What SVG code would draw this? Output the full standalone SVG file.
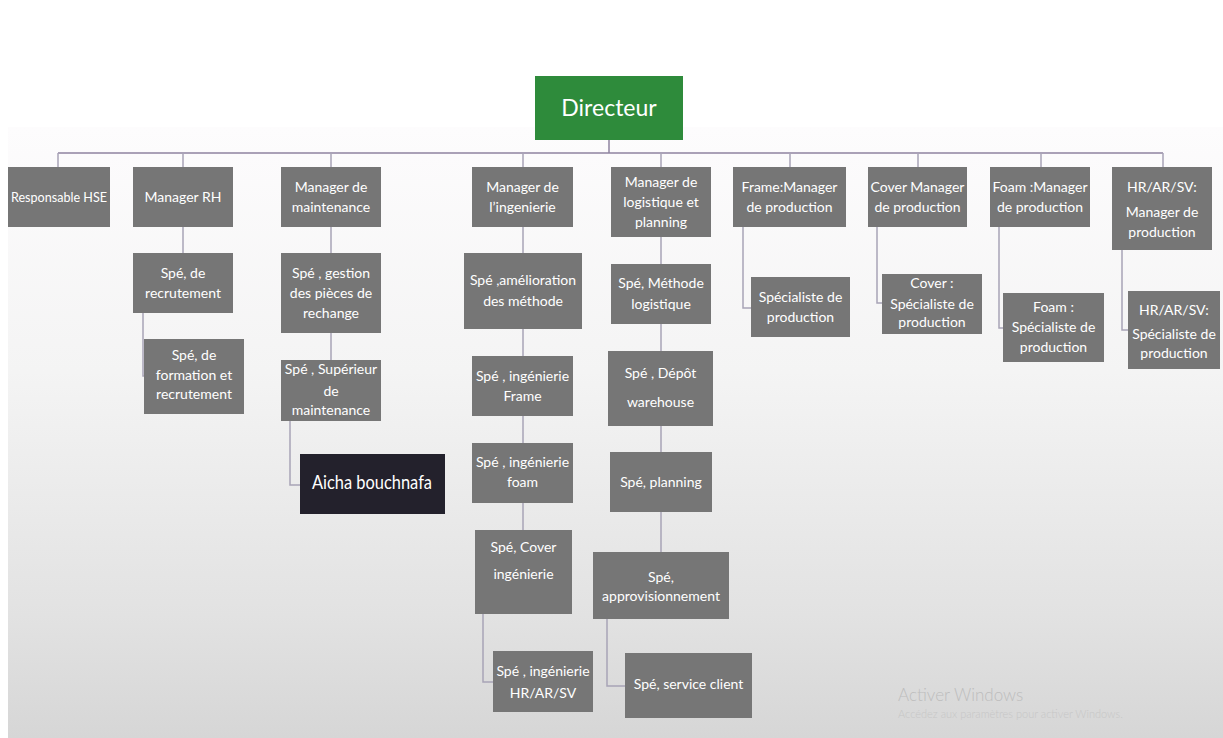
<svg xmlns="http://www.w3.org/2000/svg" width="1223" height="738" viewBox="0 0 1223 738">
<defs>
<linearGradient id="bg" x1="0" y1="0" x2="0" y2="1">
<stop offset="0" stop-color="#fdfcfd"/>
<stop offset="0.4" stop-color="#f4f4f4"/>
<stop offset="0.8" stop-color="#e2e2e2"/>
<stop offset="1" stop-color="#d6d6d6"/>
</linearGradient>
<style>
.box{fill:#767676}
.t{fill:#ffffff;font-family:Lato,"Liberation Sans",Arial,sans-serif;font-size:14px;text-anchor:middle}
.c{fill:none;stroke:#a8a4b6;stroke-width:1.5}
.bus{fill:none;stroke:#8f84a0;stroke-width:1.5}
</style>
</defs>
<rect x="0" y="0" width="1223" height="738" fill="#ffffff"/>
<rect x="8" y="127" width="1215" height="611" fill="url(#bg)"/>

<g id="connectors">
<path class="bus" d="M609,140 V153 M58,153 H1163"/>
<path class="c" d="M58,153 V167 M183,153 V167 M331,153 V167 M523,153 V167 M661,153 V167 M790,153 V167 M918,153 V167 M1041,153 V167 M1163,153 V167"/>
<path class="c" d="M183,227 V253 M143,313 V376 H144"/>
<path class="c" d="M331,227 V253 M331,333 V360 M290,421 V485 H300"/>
<path class="c" d="M523,227 V253 M523,329 V356 M523,416 V443 M523,503 V530 M483,614 V682 H493"/>
<path class="c" d="M661,237 V264 M661,324 V351 M661,426 V452 M661,512 V552 M607,619 V686 H625"/>
<path class="c" d="M743,227 V308 H751 M877,227 V303 H882 M999,227 V328 H1003 M1122,250 V330 H1128"/>
</g>

<g id="directeur">
<rect x="535" y="76" width="148" height="64" fill="#2e8b3b"/>
<text x="609" y="116" style="fill:#fff;font-family:Lato,'Liberation Sans',Arial,sans-serif;font-size:23px;text-anchor:middle">Directeur</text>
</g>

<g id="resp-hse"><rect class="box" x="8" y="167" width="102" height="60"/><text class="t" x="59" y="202" textLength="96" lengthAdjust="spacingAndGlyphs">Responsable HSE</text></g>
<g id="manager-rh"><rect class="box" x="133" y="167" width="100" height="60"/><text class="t" x="183" y="202">Manager RH</text></g>
<g id="manager-maint"><rect class="box" x="281" y="167" width="100" height="60"/><text class="t" x="331" y="192">Manager de</text><text class="t" x="331" y="212">maintenance</text></g>
<g id="manager-ing"><rect class="box" x="472" y="167" width="101" height="60"/><text class="t" x="522.5" y="192">Manager de</text><text class="t" x="522.5" y="212">l’ingenierie</text></g>
<g id="manager-log"><rect class="box" x="611" y="167" width="100" height="70"/><text class="t" x="661" y="187">Manager de</text><text class="t" x="661" y="207">logistique et</text><text class="t" x="661" y="227">planning</text></g>
<g id="manager-frame"><rect class="box" x="733" y="167" width="113" height="60"/><text class="t" x="789.5" y="192">Frame:Manager</text><text class="t" x="789.5" y="212">de production</text></g>
<g id="manager-cover"><rect class="box" x="868" y="167" width="99" height="60"/><text class="t" x="917.5" y="192">Cover Manager</text><text class="t" x="917.5" y="212">de production</text></g>
<g id="manager-foam"><rect class="box" x="990" y="167" width="100" height="60"/><text class="t" x="1040" y="192">Foam :Manager</text><text class="t" x="1040" y="212">de production</text></g>
<g id="manager-hr"><rect class="box" x="1112" y="167" width="100" height="83"/><text class="t" x="1162" y="192">HR/AR/SV:</text><text class="t" x="1162" y="217">Manager de</text><text class="t" x="1162" y="237">production</text></g>

<g id="spe-recrutement"><rect class="box" x="133" y="253" width="100" height="60"/><text class="t" x="183" y="278">Spé, de</text><text class="t" x="183" y="298">recrutement</text></g>
<g id="spe-formation"><rect class="box" x="144" y="339" width="100" height="75"/><text class="t" x="194" y="360">Spé, de</text><text class="t" x="194" y="380">formation et</text><text class="t" x="194" y="399">recrutement</text></g>

<g id="spe-pieces"><rect class="box" x="281" y="253" width="100" height="80"/><text class="t" x="331" y="278">Spé , gestion</text><text class="t" x="331" y="298">des pièces de</text><text class="t" x="331" y="318">rechange</text></g>
<g id="spe-superieur"><rect class="box" x="281" y="360" width="100" height="61"/><text class="t" x="331" y="374">Spé , Supérieur</text><text class="t" x="331" y="396">de</text><text class="t" x="331" y="415">maintenance</text></g>
<g id="aicha"><rect x="300" y="454" width="145" height="60" fill="#23212c"/><text x="372" y="489" textLength="120" lengthAdjust="spacingAndGlyphs" style="fill:#fff;font-family:Lato,'Liberation Sans',Arial,sans-serif;font-size:20px;text-anchor:middle">Aicha bouchnafa</text></g>

<g id="spe-amelioration"><rect class="box" x="464" y="253" width="118" height="76"/><text class="t" x="523" y="285">Spé ,amélioration</text><text class="t" x="523" y="306">des méthode</text></g>
<g id="spe-ing-frame"><rect class="box" x="472" y="356" width="101" height="60"/><text class="t" x="522.5" y="381">Spé , ingénierie</text><text class="t" x="522.5" y="401">Frame</text></g>
<g id="spe-ing-foam"><rect class="box" x="472" y="443" width="101" height="60"/><text class="t" x="522.5" y="467">Spé , ingénierie</text><text class="t" x="522.5" y="487">foam</text></g>
<g id="spe-cover-ing"><rect class="box" x="475" y="530" width="97" height="84"/><text class="t" x="523.5" y="552">Spé, Cover</text><text class="t" x="523.5" y="579">ingénierie</text></g>
<g id="spe-ing-hr"><rect class="box" x="493" y="651" width="100" height="61"/><text class="t" x="543" y="676">Spé , ingénierie</text><text class="t" x="543" y="698">HR/AR/SV</text></g>

<g id="spe-methode-log"><rect class="box" x="611" y="264" width="100" height="60"/><text class="t" x="661" y="288">Spé, Méthode</text><text class="t" x="661" y="309">logistique</text></g>
<g id="spe-depot"><rect class="box" x="608" y="351" width="105" height="75"/><text class="t" x="660.5" y="378">Spé , Dépôt</text><text class="t" x="660.5" y="407">warehouse</text></g>
<g id="spe-planning"><rect class="box" x="610" y="452" width="102" height="60"/><text class="t" x="661" y="487">Spé, planning</text></g>
<g id="spe-appro"><rect class="box" x="593" y="552" width="136" height="67"/><text class="t" x="661" y="582">Spé,</text><text class="t" x="661" y="601">approvisionnement</text></g>
<g id="spe-service"><rect class="box" x="625" y="653" width="127" height="65"/><text class="t" x="688.5" y="689">Spé, service client</text></g>

<g id="spe-frame-prod"><rect class="box" x="751" y="277" width="99" height="60"/><text class="t" x="800.5" y="302">Spécialiste de</text><text class="t" x="800.5" y="322">production</text></g>
<g id="spe-cover-prod"><rect class="box" x="882" y="274" width="100" height="60"/><text class="t" x="932" y="288">Cover :</text><text class="t" x="932" y="309">Spécialiste de</text><text class="t" x="932" y="327">production</text></g>
<g id="spe-foam-prod"><rect class="box" x="1003" y="293" width="101" height="69"/><text class="t" x="1053.5" y="312">Foam :</text><text class="t" x="1053.5" y="332">Spécialiste de</text><text class="t" x="1053.5" y="352">production</text></g>
<g id="spe-hr-prod"><rect class="box" x="1128" y="291" width="92" height="78"/><text class="t" x="1174" y="315">HR/AR/SV:</text><text class="t" x="1174" y="339">Spécialiste de</text><text class="t" x="1174" y="358">production</text></g>

<text x="898" y="701" style="fill:#bdbdbd;font-family:Lato,'Liberation Sans',Arial,sans-serif;font-weight:300;font-size:17px">Activer Windows</text>
<text x="898" y="718" style="fill:#c6c6c6;font-family:Lato,'Liberation Sans',Arial,sans-serif;font-weight:300;font-size:11px">Accédez aux paramètres pour activer Windows.</text>
</svg>
